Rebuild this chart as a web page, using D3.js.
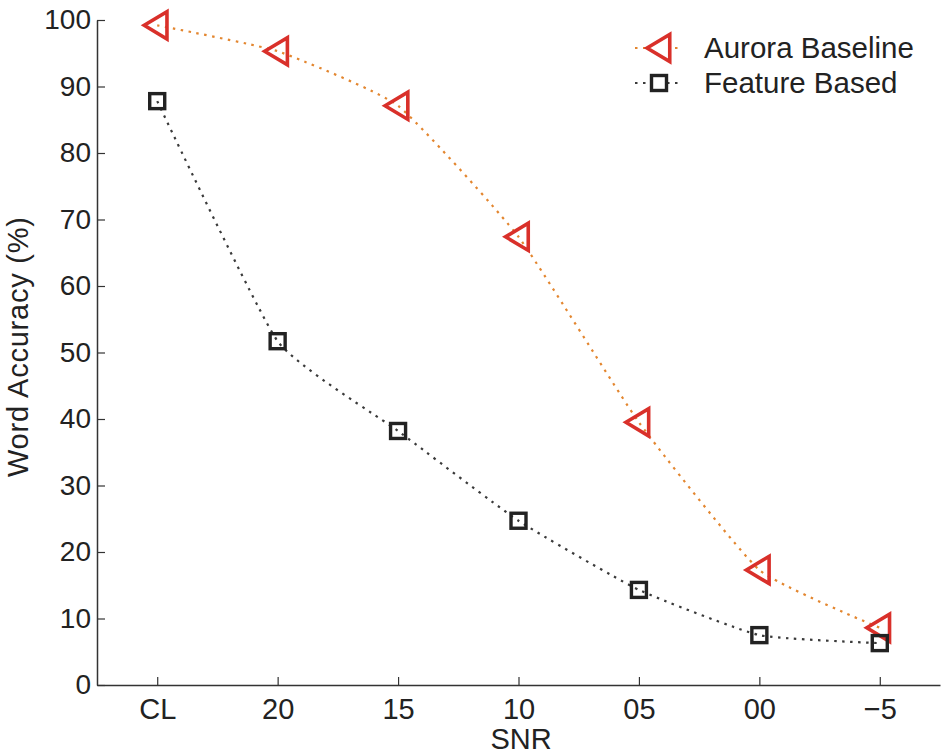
<!DOCTYPE html>
<html>
<head>
<meta charset="utf-8">
<script src="https://cdn.jsdelivr.net/npm/d3@7.9.0/dist/d3.min.js"></script>
<style>
  body { margin: 0; background: #fff; }
  svg { display: block; font-family: 'Liberation Sans', Arial, sans-serif; }
</style>
</head>
<body>
<div id="chart"></div>
<script>
const snrLabels = ['CL', '20', '15', '10', '05', '00', '\u22125'];
const auroraBaseline = [99.2, 95.3, 87.1, 67.4, 39.5, 17.3, 8.6];
const featureBased = [87.8, 51.7, 38.2, 24.7, 14.3, 7.5, 6.3];
const yTicks = [0, 10, 20, 30, 40, 50, 60, 70, 80, 90, 100];

const width = 942;
const height = 751;
const margin = { top: 20, right: 2, bottom: 66, left: 97 };

const svg = d3.select('#chart').append('svg')
  .attr('width', width)
  .attr('height', height);

const x = d3.scalePoint()
  .domain(snrLabels)
  .range([margin.left, width - margin.right])
  .padding(0.5);

const y = d3.scaleLinear()
  .domain([0, 100])
  .range([height - margin.bottom, margin.top]);

// axes (ticks pointing inward, no box)
const xAxis = svg.append('g')
  .attr('transform', `translate(0, ${y(0)})`)
  .call(d3.axisBottom(x).tickSizeInner(-8).tickSizeOuter(0).tickPadding(13));

const yAxis = svg.append('g')
  .attr('transform', `translate(${margin.left}, 0)`)
  .call(d3.axisLeft(y).tickValues(yTicks).tickSizeInner(-8).tickSizeOuter(0).tickPadding(6));

[xAxis, yAxis].forEach((g) => {
  g.select('.domain').attr('stroke', '#333').attr('stroke-width', 1.5);
  g.selectAll('.tick line').attr('stroke', '#333').attr('stroke-width', 1.2);
  g.selectAll('.tick text').attr('fill', '#222').style('font-size', '29px');
});
yAxis.selectAll('.tick text').style('font-size', '28px');

svg.append('text')
  .attr('x', 521)
  .attr('y', 749)
  .attr('text-anchor', 'middle')
  .attr('fill', '#222')
  .style('font-size', '29px')
  .text('SNR');

svg.append('text')
  .attr('transform', 'translate(28, 347) rotate(-90)')
  .attr('text-anchor', 'middle')
  .attr('fill', '#222')
  .style('font-size', '29px')
  .attr('textLength', 260)
  .attr('lengthAdjust', 'spacing')
  .text('Word Accuracy (%)');

const line = d3.line()
  .x((d, i) => x(snrLabels[i]))
  .y((d) => y(d))
  .curve(d3.curveCardinal.tension(0.55));

const red = '#d9302a';
const orange = '#e3862f';

svg.append('path')
  .datum(auroraBaseline)
  .attr('d', line)
  .attr('fill', 'none')
  .attr('stroke', orange)
  .attr('stroke-width', 2.2)
  .attr('stroke-dasharray', '2.5 5.5');

svg.append('path')
  .datum(featureBased)
  .attr('d', line)
  .attr('fill', 'none')
  .attr('stroke', '#3a3a3a')
  .attr('stroke-width', 2.2)
  .attr('stroke-dasharray', '2.5 5.5');

const triPath = (cx, cy) => {
  const s = 13;
  return `M${cx - s},${cy} L${cx + s * 0.75},${cy - s * 1.05} L${cx + s * 0.75},${cy + s * 1.05} Z`;
};

svg.append('g').selectAll('path')
  .data(auroraBaseline)
  .join('path')
  .attr('d', (d, i) => triPath(x(snrLabels[i]), y(d)))
  .attr('fill', 'none')
  .attr('stroke', red)
  .attr('stroke-width', 3.6)
  .attr('stroke-linejoin', 'miter');

svg.append('g').selectAll('rect')
  .data(featureBased)
  .join('rect')
  .attr('x', (d, i) => x(snrLabels[i]) - 7.5)
  .attr('y', (d) => y(d) - 7.5)
  .attr('width', 15)
  .attr('height', 15)
  .attr('fill', 'none')
  .attr('stroke', '#222')
  .attr('stroke-width', 3.4);

// legend
const legend = svg.append('g');
const legendItems = [
  { label: 'Aurora Baseline', yPos: 48, type: 'tri' },
  { label: 'Feature Based', yPos: 83, type: 'sq' },
];
legendItems.forEach((item) => {
  legend.append('line')
    .attr('x1', 635).attr('x2', 681)
    .attr('y1', item.yPos).attr('y2', item.yPos)
    .attr('stroke', item.type === 'tri' ? orange : '#3a3a3a')
    .attr('stroke-width', 2.2)
    .attr('stroke-dasharray', '2.5 5.5');
  if (item.type === 'tri') {
    legend.append('path')
      .attr('d', triPath(660, item.yPos))
      .attr('fill', '#fff')
      .attr('stroke', red)
      .attr('stroke-width', 3.6);
  } else {
    legend.append('rect')
      .attr('x', 659 - 7.5).attr('y', item.yPos - 7.5)
      .attr('width', 15).attr('height', 15)
      .attr('fill', '#fff')
      .attr('stroke', '#222')
      .attr('stroke-width', 3.4);
  }
  legend.append('text')
    .attr('x', 704)
    .attr('y', item.yPos + 10)
    .attr('fill', '#222')
    .style('font-size', '29.5px')
    .text(item.label);
});
</script>
</body>
</html>
